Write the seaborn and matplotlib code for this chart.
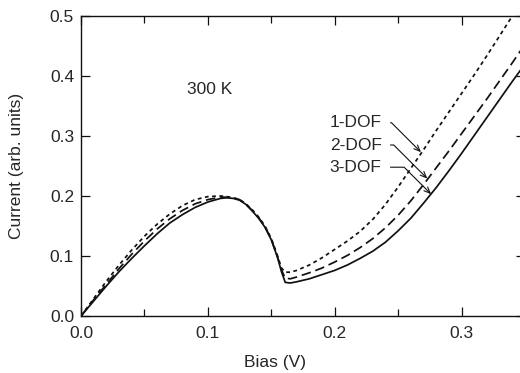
import pandas as pd
import seaborn as sns
import matplotlib.pyplot as plt
from matplotlib.ticker import MultipleLocator

# === data ===
bias = [0.0, 0.01, 0.02, 0.03, 0.04, 0.05, 0.06, 0.07, 0.08, 0.09, 0.10, 0.11,
        0.115, 0.12, 0.125, 0.13, 0.135, 0.14, 0.145, 0.15, 0.155, 0.158, 0.161,
        0.165, 0.17, 0.18, 0.19, 0.20, 0.21, 0.22, 0.23, 0.24, 0.25, 0.26, 0.27,
        0.28, 0.29, 0.30, 0.31, 0.32, 0.33, 0.34, 0.35]

dof1 = [0.0, 0.029, 0.058, 0.085, 0.110, 0.133, 0.153, 0.170, 0.184, 0.194, 0.199, 0.200,
        0.199, 0.197, 0.194, 0.187, 0.177, 0.165, 0.150, 0.129, 0.100, 0.080, 0.073,
        0.073, 0.076, 0.085, 0.097, 0.111, 0.125, 0.141, 0.161, 0.186, 0.215, 0.246, 0.277,
        0.309, 0.340, 0.371, 0.402, 0.434, 0.467, 0.500, 0.534]

dof2 = [0.0, 0.027, 0.053, 0.079, 0.103, 0.125, 0.145, 0.162, 0.176, 0.187, 0.194, 0.198,
        0.198, 0.197, 0.194, 0.186, 0.176, 0.164, 0.149, 0.128, 0.098, 0.077, 0.063,
        0.062, 0.065, 0.072, 0.080, 0.090, 0.101, 0.114, 0.129, 0.147, 0.168, 0.192, 0.219,
        0.247, 0.275, 0.304, 0.333, 0.362, 0.392, 0.422, 0.453]

dof3 = [0.0, 0.025, 0.050, 0.074, 0.096, 0.117, 0.137, 0.155, 0.169, 0.181, 0.190, 0.196,
        0.197, 0.196, 0.193, 0.186, 0.175, 0.163, 0.148, 0.127, 0.097, 0.074, 0.056,
        0.055, 0.057, 0.062, 0.069, 0.076, 0.085, 0.096, 0.108, 0.123, 0.142, 0.163, 0.188,
        0.214, 0.242, 0.271, 0.301, 0.331, 0.361, 0.391, 0.420]

models = ["1-DOF", "2-DOF", "3-DOF"]
xticks = [0.0, 0.1, 0.2, 0.3]
yticks = [0.0, 0.1, 0.2, 0.3, 0.4, 0.5]

n = len(bias)
df = pd.DataFrame({
    "Bias": bias * 3,
    "Current": dof1 + dof2 + dof3,
    "model": [m for m in models for _ in range(n)],
})

# === style ===
sns.set_style("ticks")
plt.rcParams['font.family'] = ['Liberation Sans', 'DejaVu Sans']
fs = 12.5

fig = plt.figure(figsize=(5.2, 3.73), dpi=100)
ax = fig.add_axes([81 / 520, 57 / 373, 444 / 520, 300 / 373])

sns.lineplot(data=df, x="Bias", y="Current", style="model",
             dashes={"1-DOF": (2.2, 2.0), "2-DOF": (5.5, 2.8), "3-DOF": ""},
             color="#111111", linewidth=1.25, errorbar=None, legend=False, ax=ax)

ax.set_xlim(0, 0.35)
ax.set_ylim(0, 0.5)
ax.set_xticks(xticks)
ax.set_xticklabels([f"{t:.1f}" for t in xticks])
ax.set_yticks(yticks)
ax.set_yticklabels([f"{t:.1f}" for t in yticks])
ax.xaxis.set_minor_locator(MultipleLocator(0.05))
ax.tick_params(which='both', direction='in', top=True, right=True,
               color='#111111', labelsize=fs, width=0.9)
ax.tick_params(which='major', length=6.5)
ax.tick_params(which='minor', length=5)
ax.tick_params(axis='x', pad=7)
ax.tick_params(axis='y', pad=5)
for s in ax.spines.values():
    s.set_linewidth(1.0)
    s.set_color('#111111')

ax.set_xlabel("Bias (V)", fontsize=fs)
ax.xaxis.set_label_coords(0.437, -0.13)
ax.set_ylabel("Current (arb. units)", fontsize=fs)
ax.yaxis.set_label_coords(-0.128, 0.5)

ax.text(0.1015, 0.377, "300 K", fontsize=fs, ha='center', va='center')

# labels with arrows
ann = [("1-DOF", 0.322, (0.268, 0.273)),
       ("2-DOF", 0.285, (0.273, 0.229)),
       ("3-DOF", 0.248, (0.276, 0.203))]
for lab, ty, xy in ann:
    ax.annotate(lab, xy=xy, xytext=(0.237, ty), fontsize=fs, ha='right', va='center',
                arrowprops=dict(arrowstyle='->,head_length=0.35,head_width=0.15',
                                connectionstyle="angle,angleA=0,angleB=-45,rad=0",
                                lw=0.8, color='#111111', shrinkA=4, shrinkB=0))

plt.savefig("out.png", dpi=100)
